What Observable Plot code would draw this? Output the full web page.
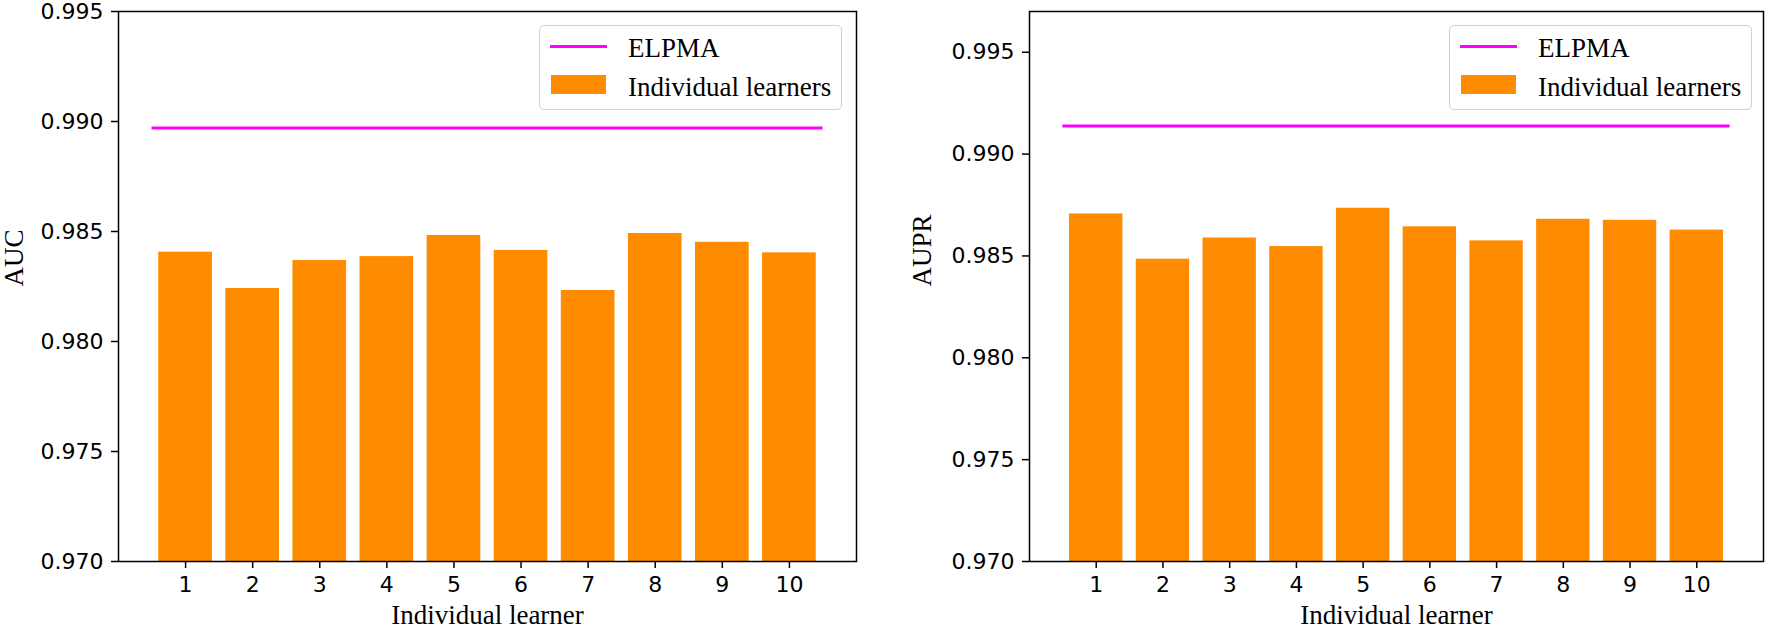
<!DOCTYPE html>
<html>
<head>
<meta charset="utf-8">
<script src="https://cdn.jsdelivr.net/npm/d3@7"></script>
<script src="https://cdn.jsdelivr.net/npm/@observablehq/plot@0.6"></script>
<style>
  body { margin: 0; background: #fff; }
  #wrap { position: relative; width: 1770px; height: 630px; overflow: hidden; background: #fff; }
  .panel { position: absolute; top: 0; }
  .panel svg { overflow: visible; }
  .legend { position: absolute; top: 25px; width: 303px; height: 85px; box-sizing: border-box;
    border: 1.5px solid #d0d0d0; border-radius: 5px; background: rgba(255,255,255,0.85);
    font-family: "Liberation Serif", "Times New Roman", serif; font-size: 27px; color: #000; }
  .legend .row { position: absolute; left: 0; height: 30px; width: 100%; }
  .legend .sw-line { position: absolute; left: 10px; width: 57px; height: 3px; background: #ff00ff; }
  .legend .sw-patch { position: absolute; left: 11px; width: 55px; height: 19px; background: #ff8c00; }
  .legend .lab { position: absolute; left: 88px; white-space: nowrap; line-height: 1; }
</style>
</head>
<body>
<div id="wrap"></div>
<script>
const learners = [1, 2, 3, 4, 5, 6, 7, 8, 9, 10];
const aucValues = [0.98406, 0.98241, 0.98368, 0.98386, 0.98482, 0.98414, 0.98232, 0.98491, 0.98451, 0.98403];
const auprValues = [0.98706, 0.98484, 0.98588, 0.98546, 0.98734, 0.98643, 0.98574, 0.98680, 0.98675, 0.98627];
const elpmaAUC = 0.9897;
const elpmaAUPR = 0.99138;
const yTicks = [0.970, 0.975, 0.980, 0.985, 0.990, 0.995];
const xTicks = learners;
const legendLabels = ["ELPMA", "Individual learners"];
const xTitle = "Individual learner";

const wrap = document.getElementById("wrap");

function panel({left, values, elpma, yDomain, yLabel, marginLeft, marginRight, labelDx}) {
  const data = learners.map((x, i) => ({x, v: values[i]}));
  const chart = Plot.plot({
    width: 885,
    height: 630,
    marginLeft, marginRight,
    marginTop: 11,
    marginBottom: 69,
    style: {fontFamily: "DejaVu Sans, sans-serif", fontSize: "22px", color: "#000", background: "#fff", overflow: "visible"},
    x: {domain: [0, 11]},
    y: {domain: yDomain},
    marks: [
      Plot.rect(data, {x1: d => d.x - 0.4, x2: d => d.x + 0.4, y1: () => yDomain[0], y2: "v", fill: "#ff8c00"}),
      Plot.ruleY([elpma], {x1: 0.5, x2: 10.5, stroke: "#ff00ff", strokeWidth: 3}),
      Plot.frame({stroke: "#000", strokeWidth: 1.5}),
      Plot.axisY({ticks: yTicks.filter(t => t <= yDomain[1] + 1e-9), tickFormat: d3.format(".3f"), tickSize: 7, tickPadding: 8, strokeWidth: 1.5, label: null}),
      Plot.axisX({ticks: xTicks, tickFormat: d => String(d), tickSize: 7, tickPadding: 8, strokeWidth: 1.5, label: null}),
      Plot.text([xTitle], {frameAnchor: "bottom", dy: 62, text: d => d, fontFamily: "Liberation Serif, Times New Roman, serif", fontSize: 27, fill: "#000"}),
      Plot.text([yLabel], {frameAnchor: "left", dx: labelDx, rotate: -90, text: d => d, fontFamily: "Liberation Serif, Times New Roman, serif", fontSize: 27, fill: "#000"})
    ]
  });
  const div = document.createElement("div");
  div.className = "panel";
  div.style.left = left + "px";
  div.appendChild(chart);
  wrap.appendChild(div);
}

function legend(left) {
  const lg = document.createElement("div");
  lg.className = "legend";
  lg.style.left = left + "px";
  lg.innerHTML = `
    <div class="row" style="top:0"><div class="sw-line" style="top:19px"></div><div class="lab" style="top:9px">${legendLabels[0]}</div></div>
    <div class="row" style="top:0"><div class="sw-patch" style="top:49px"></div><div class="lab" style="top:48px">${legendLabels[1]}</div></div>`;
  wrap.appendChild(lg);
}

panel({left: 0, values: aucValues, elpma: elpmaAUC, yDomain: [0.970, 0.995], yLabel: "AUC", marginLeft: 118, marginRight: 29, labelDx: -104});
panel({left: 885, values: auprValues, elpma: elpmaAUPR, yDomain: [0.970, 0.997], yLabel: "AUPR", marginLeft: 144, marginRight: 7, labelDx: -107});
legend(539);
legend(1449);
</script>
</body>
</html>
